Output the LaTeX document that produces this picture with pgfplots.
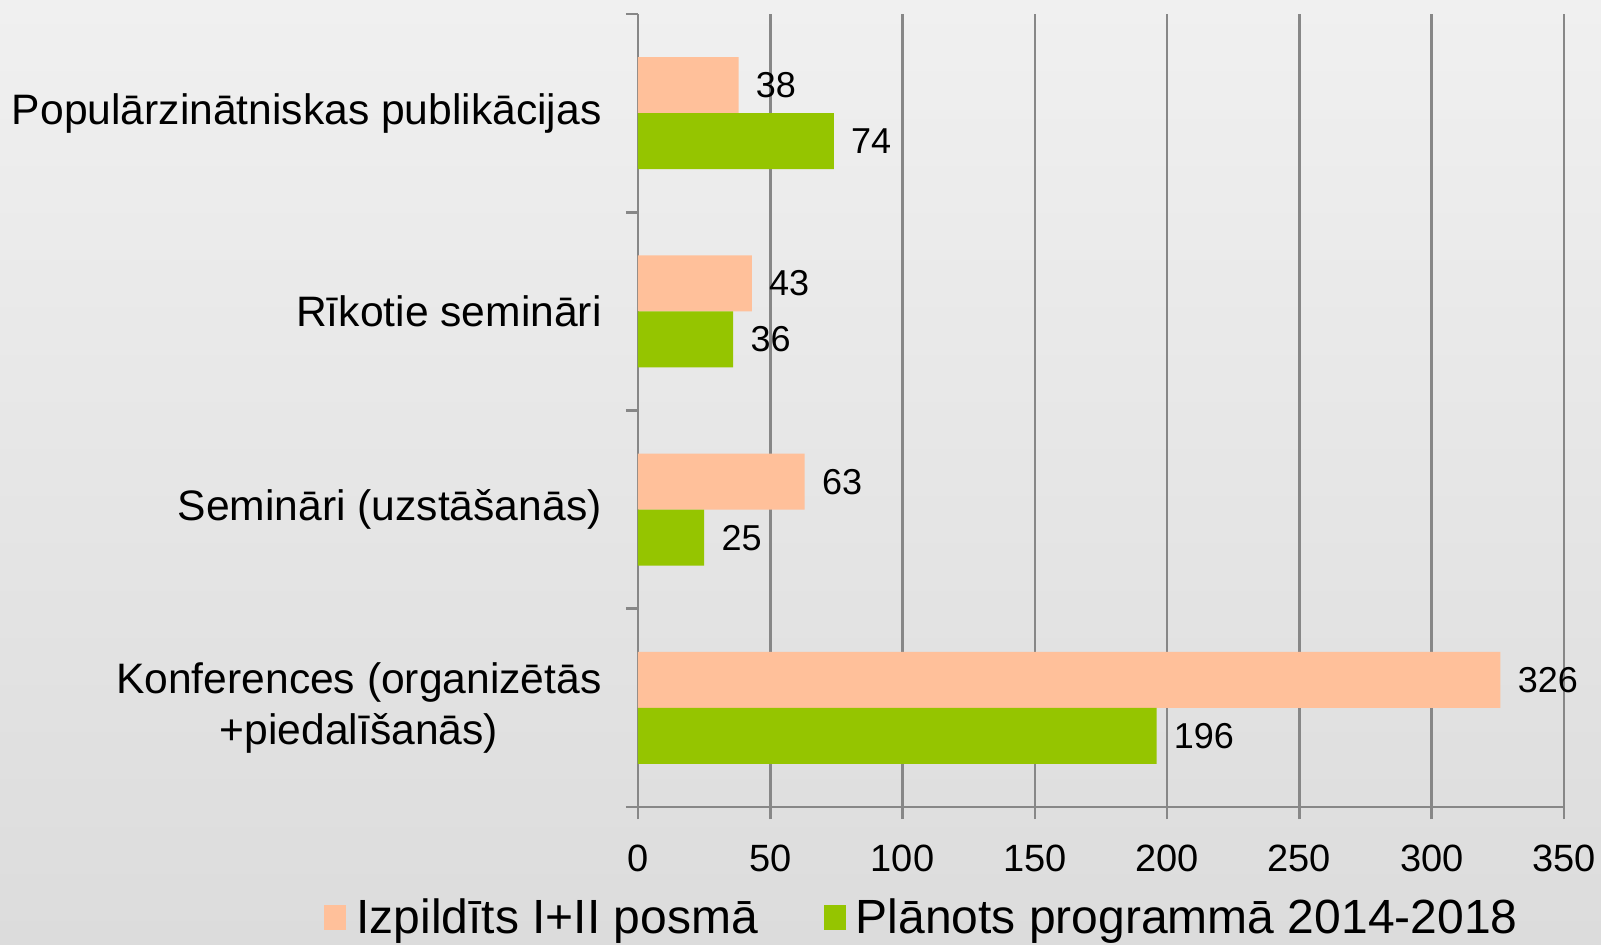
\documentclass[border=0pt]{standalone}
\usepackage{fontspec}
\setmainfont{Liberation Sans}
\usepackage{pgfplots}
\pgfplotsset{compat=1.18}
\definecolor{peach}{RGB}{255,192,154}
\definecolor{lgreen}{RGB}{149,197,0}
\definecolor{gridg}{RGB}{135,135,135}
\begin{document}
\begin{tikzpicture}
\shade[top color={rgb,255:red,240;green,240;blue,240}, bottom color={rgb,255:red,220;green,220;blue,220}] (-319pt,-68.5pt) rectangle (481.5pt,403.5pt);
\useasboundingbox (-319pt,-68.5pt) rectangle (481.5pt,403.5pt);
\begin{axis}[
  scale only axis,
  width=463pt, height=396.5pt,
  xbar, bar width=28pt,
  xmin=0, xmax=350,
  ymin=-0.5, ymax=3.5,
  xtick={0,50,...,350},
  ytick={0,1,2,3},
  yticklabels={{Konferences (organizētās\\+piedalīšanās)},{Semināri (uzstāšanās)},{Rīkotie semināri},{Populārzinātniskas publikācijas}},
  minor ytick={-0.5,0.5,1.5,2.5,3.5},
  axis x line*=bottom, axis y line*=left,
  axis line style={draw=gridg, line width=1.3pt, -},
  tick align=outside,
  major tick length=6pt, minor tick length=6pt,
  every tick/.style={draw=gridg, line width=1.3pt},
  major y tick style={draw=none},
  minor y tick style={draw=gridg, line width=1.3pt},
  xmajorgrids, grid style={draw=gridg, line width=1.3pt},
  /pgf/number format/assume math mode=true,
  xticklabel style={font=\fontsize{19}{22}\selectfont, inner sep=0pt, anchor=north, yshift=-13pt},
  yticklabel style={font=\fontsize{21.3}{25.5}\selectfont, align=center, inner sep=0pt, anchor=east, xshift=-12pt},
  nodes near coords,
  nodes near coords style={font=\fontsize{18}{20}\selectfont, anchor=west, inner sep=0pt, xshift=8.5pt},
  legend columns=2,
  legend style={at={(0.3056,-0.139)}, anchor=center, draw=none, fill=none, font=\fontsize{24}{28}\selectfont,
    /tikz/every odd column/.append style={column sep=5pt},
    /tikz/every even column/.append style={column sep=33pt},
    nodes={inner sep=0pt}},
  legend image code/.code={\fill[#1] (0pt,-6.2pt) rectangle (11pt,6.2pt);},
  clip=false,
]
\addplot[fill=peach, draw=none, bar shift=14pt] coordinates {(326,0) (63,1) (43,2) (38,3)};
\addplot[fill=lgreen, draw=none, bar shift=-14pt] coordinates {(196,0) (25,1) (36,2) (74,3)};
\legend{Izpildīts I+II posmā, Plānots programmā 2014-2018}
\end{axis}
\end{tikzpicture}
\end{document}
